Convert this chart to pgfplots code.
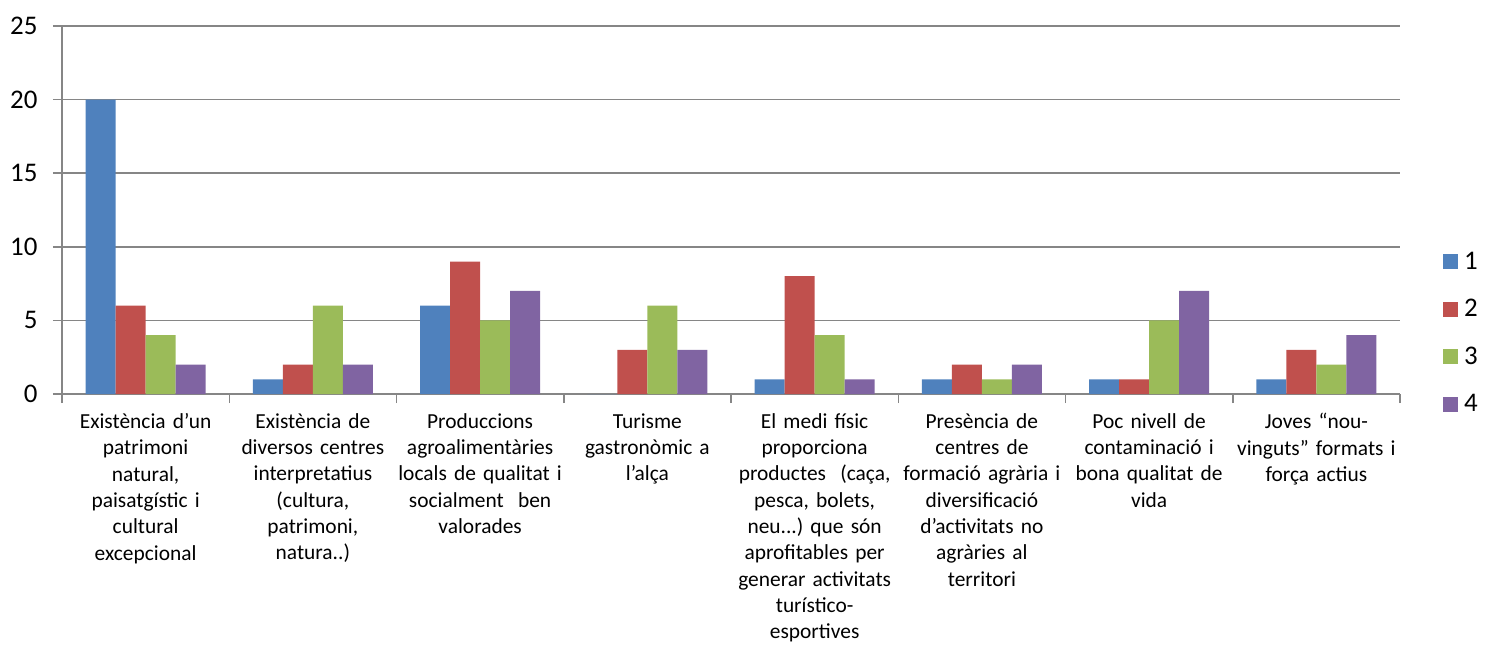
\documentclass[border=0pt]{standalone}
\usepackage{fontspec}
\setmainfont{Carlito}
\usepackage{pgfplots}
\pgfplotsset{compat=1.18}
\definecolor{s1}{HTML}{4F81BD}
\definecolor{s2}{HTML}{C0504D}
\definecolor{s3}{HTML}{9BBB59}
\definecolor{s4}{HTML}{8064A2}
\definecolor{axg}{HTML}{868686}
\begin{document}
\frenchspacing
\begin{tikzpicture}
\begin{axis}[name=ax, scale only axis, width=1338bp, height=368bp,
  xmin=-0.5, xmax=7.5, ymin=0, ymax=25,
  ytick={0,5,10,15,20,25},
  ymajorgrids, grid style={draw=axg, line width=1.5bp},
  axis x line*=bottom, axis y line*=left,
  axis line style={draw=axg, line width=1.5bp},
  tick style={draw=axg, line width=1.5bp},
  major tick length=9bp, tick align=outside,
  xtick={-0.5,0.5,1.5,2.5,3.5,4.5,5.5,6.5,7.5},
  xticklabels={
    {Existència d’un\\patrimoni\\natural,\\paisatgístic i\\cultural\\excepcional},
    {Existència de\\diversos centres\\interpretatius\\(cultura,\\patrimoni,\\natura..)},
    {Produccions\\agroalimentàries\\locals de qualitat i\\socialment\ \ ben\\valorades},
    {Turisme\\gastronòmic a\\l’alça},
    {El medi físic\\proporciona\\productes\ \ (caça,\\pesca, bolets,\\neu.{}.{}.) que són\\aprofitables per\\generar activitats\\turístico-\\esportives},
    {Presència de\\centres de\\formació agrària i\\diversificació\\d’activitats no\\agràries al\\territori},
    {Poc nivell de\\contaminació i\\bona qualitat de\\vida},
    {Joves “nou-\\vinguts” formats i\\força actius},
    {}},
  x tick label style={xshift=83.625bp, yshift=-7bp, anchor=north, text width=180bp, align=center,
    font=\fontsize{21.5}{26.3}\selectfont\frenchspacing,
    execute at begin node={\setlength{\baselineskip}{26.3bp}}},
  y tick label style={xshift=-12bp, font=\fontsize{27}{30}\selectfont},
  /pgf/number format/assume math mode=true,
  ybar=0pt, bar width=30bp,
  legend style={draw=none, at={(1.032,0.166)}, anchor=west, inner sep=0pt,
    font=\fontsize{27}{30}\selectfont, row sep=28.5bp,
    nodes={inner sep=2bp, text height=15bp, text depth=0bp},
    /tikz/every odd column/.append style={column sep=4bp}},
  legend cell align=left,
  legend image code/.code={\fill[#1] (0bp,-7.5bp) rectangle (15bp,7.5bp);},
]
\addplot[fill=s1, draw=none] coordinates {(0,20) (1,1) (2,6) (3,0) (4,1) (5,1) (6,1) (7,1)};
\addplot[fill=s2, draw=none] coordinates {(0,6) (1,2) (2,9) (3,3) (4,8) (5,2) (6,1) (7,3)};
\addplot[fill=s3, draw=none] coordinates {(0,4) (1,6) (2,5) (3,6) (4,4) (5,1) (6,5) (7,2)};
\addplot[fill=s4, draw=none] coordinates {(0,2) (1,2) (2,7) (3,3) (4,1) (5,2) (6,7) (7,4)};
\legend{1,2,3,4}
\end{axis}
\pgfresetboundingbox
\path (ax.south west) ++(-62bp,-259bp) rectangle ++(1491bp,653bp);
\end{tikzpicture}
\end{document}
